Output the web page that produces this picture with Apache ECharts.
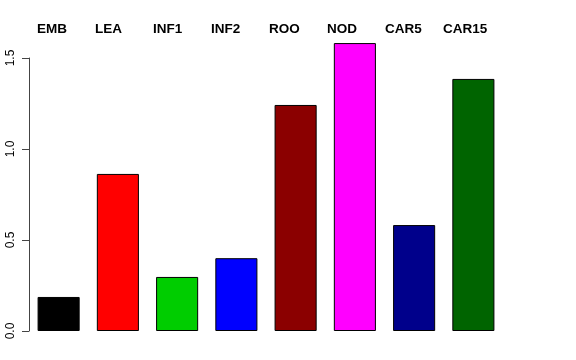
<!DOCTYPE html>
<html><head><meta charset="utf-8">
<script src="https://cdn.jsdelivr.net/npm/echarts@6/dist/echarts.min.js"></script>
<style>html,body{margin:0;padding:0;background:#fff}#c{width:576px;height:360px}</style>
</head><body><div id="c"></div>
<script>
var categories = ['EMB','LEA','INF1','INF2','ROO','NOD','CAR5','CAR15'];
var values = [0.187, 0.863, 0.297, 0.400, 1.242, 1.582, 0.582, 1.385];
var colors = ['#000000','#FF0000','#00CD00','#0000FF','#8B0000','#FF00FF','#00008B','#006400'];
var yTicks = [0, 0.5, 1.0, 1.5];

var chart = echarts.init(document.getElementById('c'));
var font = 'Liberation Sans, Arial, Helvetica, sans-serif';
chart.setOption({
  animation: false,
  grid: [
    {left: 29, width: 474, top: 3.4, bottom: 29},
    {left: 29, width: 474, top: 58, bottom: 29},
    {left: 37, width: 406, top: 58, bottom: 29}
  ],
  xAxis: [
    {gridIndex: 0, type: 'category', data: categories, axisLine: {show: false}, axisTick: {show: false}, axisLabel: {show: false}},
    {gridIndex: 1, type: 'category', data: categories, show: false},
    {gridIndex: 2, type: 'category', data: categories, position: 'top', boundaryGap: false,
     axisLine: {show: false}, axisTick: {show: false},
     axisLabel: {align: 'left', verticalAlign: 'middle', margin: 29, color: '#000', fontWeight: 'bold', fontSize: 13.5, fontFamily: font}}
  ],
  yAxis: [
    {gridIndex: 0, type: 'value', min: 0, max: 1.8, show: false, splitLine: {show: false}},
    {gridIndex: 1, type: 'value', min: 0, max: yTicks[yTicks.length-1], interval: 0.5,
     axisLine: {show: true, lineStyle: {color: '#444', width: 1}},
     axisTick: {show: true, length: 7, lineStyle: {color: '#444'}},
     splitLine: {show: false},
     axisLabel: {rotate: 90, margin: 12, color: '#000', fontSize: 12, fontFamily: font,
       align: 'center', verticalAlign: 'bottom',
       formatter: function(v){ return v.toFixed(1); }}},
    {gridIndex: 2, type: 'value', show: false}
  ],
  series: [{
    type: 'bar', xAxisIndex: 0, yAxisIndex: 0,
    barCategoryGap: '29%',
    data: values.map(function(v,i){ return {value: v, itemStyle: {color: colors[i]}}; }),
    itemStyle: {borderColor: '#000', borderWidth: 1}
  }]
});
</script></body></html>
